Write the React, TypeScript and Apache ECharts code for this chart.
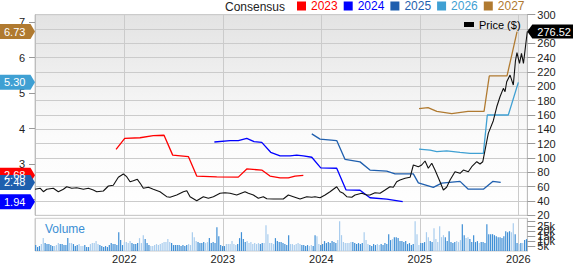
import React, { useEffect, useRef } from 'react';
import * as echarts from 'echarts';

// ---------- data ----------
const X_MIN = 2021.093;
const X_MAX = 2026.091;
const yearTicks = [2022, 2023, 2024, 2025, 2026];
const leftTickLabels = [3, 4, 5, 6, 7];
const volTickLabels = ['0', '5k', '10k', '15k', '20k', '25k'];

const priceT = [2021.093, 2021.147, 2021.178, 2021.212, 2021.279, 2021.33, 2021.381, 2021.415, 2021.466, 2021.517, 2021.584, 2021.635, 2021.685, 2021.72, 2021.787, 2021.838, 2021.888, 2021.939, 2021.99, 2022.024, 2022.058, 2022.091, 2022.132, 2022.166, 2022.193, 2022.244, 2022.294, 2022.362, 2022.43, 2022.464, 2022.532, 2022.599, 2022.634, 2022.667, 2022.735, 2022.802, 2022.853, 2022.904, 2022.972, 2023.022, 2023.073, 2023.141, 2023.225, 2023.259, 2023.31, 2023.36, 2023.411, 2023.446, 2023.513, 2023.581, 2023.614, 2023.665, 2023.716, 2023.784, 2023.852, 2023.903, 2023.936, 2023.987, 2024.038, 2024.088, 2024.156, 2024.19, 2024.223, 2024.258, 2024.309, 2024.342, 2024.41, 2024.461, 2024.494, 2024.545, 2024.596, 2024.647, 2024.697, 2024.731, 2024.765, 2024.799, 2024.85, 2024.901, 2024.934, 2024.985, 2025.019, 2025.053, 2025.086, 2025.121, 2025.154, 2025.205, 2025.239, 2025.272, 2025.307, 2025.357, 2025.408, 2025.442, 2025.492, 2025.527, 2025.578, 2025.611, 2025.639, 2025.662, 2025.695, 2025.746, 2025.781, 2025.814, 2025.848, 2025.865, 2025.882, 2025.916, 2025.949, 2025.971, 2025.986, 2026.012, 2026.032, 2026.052, 2026.091];
const priceV = [56.3, 57.7, 52.9, 56.3, 57.7, 52.9, 56.3, 59.9, 57.7, 58.5, 56.3, 57.7, 55.3, 52.9, 53.9, 60.9, 61.9, 73.0, 77.6, 73.9, 66.9, 68.3, 70.2, 63.7, 57.7, 59.1, 56.3, 52.9, 46.0, 45.1, 48.3, 52.9, 54.3, 46.0, 40.4, 46.0, 43.7, 46.0, 50.7, 51.5, 50.7, 48.3, 52.9, 50.7, 48.3, 43.7, 46.0, 43.2, 42.7, 42.7, 42.7, 48.3, 46.0, 42.7, 46.0, 45.1, 46.0, 44.6, 48.3, 52.9, 59.9, 52.9, 50.7, 46.0, 45.1, 48.3, 50.7, 48.3, 48.3, 51.5, 50.7, 55.3, 59.9, 59.1, 66.9, 69.3, 71.6, 73.0, 90.2, 87.8, 90.2, 95.8, 85.6, 92.6, 83.2, 66.9, 55.3, 59.1, 69.3, 80.8, 78.6, 83.2, 80.8, 87.8, 94.8, 91.6, 94.8, 111.1, 134.4, 152.0, 171.5, 185.5, 197.2, 192.5, 206.4, 215.7, 201.8, 236.0, 247.0, 232.0, 246.0, 232.0, 276.52];

const eps2023T = [2021.916, 2022.004, 2022.159, 2022.294, 2022.403, 2022.491, 2022.65, 2022.735, 2022.938, 2023.157, 2023.243, 2023.395, 2023.479, 2023.581, 2023.665, 2023.733, 2023.817];
const eps2023V = [3.41, 3.72, 3.74, 3.8, 3.81, 3.25, 3.21, 2.66, 2.64, 2.63, 2.86, 2.83, 2.66, 2.61, 2.61, 2.66, 2.68];

const eps2024T = [2022.914, 2023.073, 2023.157, 2023.243, 2023.317, 2023.395, 2023.486, 2023.581, 2023.682, 2023.75, 2023.817, 2023.903, 2023.994, 2024.156, 2024.251, 2024.393, 2024.494, 2024.664, 2024.826];
const eps2024V = [3.62, 3.66, 3.66, 3.72, 3.63, 3.61, 3.33, 3.23, 3.23, 3.25, 3.23, 3.19, 2.89, 2.88, 2.27, 2.26, 2.05, 2.01, 1.94];

const eps2025T = [2023.903, 2023.987, 2024.156, 2024.241, 2024.393, 2024.494, 2024.664, 2024.748, 2024.934, 2024.985, 2025.137, 2025.222, 2025.408, 2025.492, 2025.645, 2025.74, 2025.821];
const eps2025V = [3.85, 3.7, 3.66, 3.13, 3.06, 2.83, 2.8, 2.72, 2.72, 2.47, 2.34, 2.46, 2.51, 2.29, 2.29, 2.51, 2.48];

const eps2026T = [2024.992, 2025.104, 2025.172, 2025.273, 2025.408, 2025.51, 2025.645, 2025.685, 2025.713, 2025.898, 2026.0];
const eps2026V = [3.42, 3.39, 3.35, 3.37, 3.33, 3.3, 3.3, 4.38, 4.38, 4.38, 5.3];

const eps2027T = [2024.992, 2025.083, 2025.172, 2025.324, 2025.489, 2025.652, 2025.705, 2025.885, 2025.987];
const eps2027V = [4.56, 4.59, 4.48, 4.42, 4.48, 4.48, 5.48, 5.48, 6.73];

// weekly volume, thousands of shares
const VOL_START = 2021.1;
const volumeK = [
  6, 4, 5, 7, 13, 8, 7, 7, 6, 5, 5, 6, 8, 7, 7, 6, 6, 13, 8, 8,
  7, 5, 6, 7, 5, 5, 6, 4, 4, 7, 8, 8, 10, 7, 6, 5, 4, 5, 4, 6,
  8, 7, 7, 6, 19, 11, 6, 9, 9, 8, 10, 8, 7, 7, 8, 13, 8, 16, 12, 8,
  6, 5, 5, 6, 7, 6, 7, 8, 9, 9, 12, 9, 8, 6, 6, 6, 6, 5, 6, 5,
  6, 7, 6, 19, 14, 10, 9, 8, 8, 9, 8, 9, 13, 8, 9, 8, 24, 15, 6, 5,
  5, 7, 7, 7, 10, 7, 6, 7, 13, 19, 12, 9, 10, 8, 9, 7, 8, 7, 8, 7,
  8, 8, 26, 17, 8, 8, 7, 13, 10, 9, 9, 8, 7, 6, 16, 7, 7, 6, 7, 8,
  7, 6, 6, 5, 6, 5, 6, 5, 16, 15, 7, 6, 7, 10, 8, 9, 8, 10, 9, 8,
  11, 30, 16, 9, 8, 8, 8, 9, 9, 8, 7, 8, 7, 8, 19, 11, 7, 6, 5, 7,
  6, 7, 6, 7, 6, 8, 7, 17, 11, 12, 14, 14, 13, 10, 10, 9, 10, 7, 8, 6,
  7, 30, 17, 6, 8, 8, 9, 19, 14, 10, 9, 23, 12, 9, 25, 14, 16, 14, 10, 20,
  9, 8, 9, 10, 9, 11, 27, 16, 13, 14, 12, 9, 16, 9, 10, 8, 9, 9, 8, 27,
  17, 17, 17, 16, 15, 14, 14, 13, 15, 20, 19, 20, 19, 28, 17, 8, 7, 8, 8, 11,
  12,
];

// ---------- styles ----------
const C2023 = '#ff0000';
const C2024 = '#0000ff';
const C2025 = '#1f5fae';
const C2026 = '#3fa0d3';
const C2027 = '#b07a30';
const FONT = 'Arial, "Liberation Sans", sans-serif';
const GRID_LINE = '#cbcbcb';

const zip = (t: number[], v: number[]) => t.map((x, i) => [x, v[i]]);

function priceAt(t: number): number {
  if (t <= priceT[0]) return priceV[0];
  for (let i = 1; i < priceT.length; i++) {
    if (t <= priceT[i]) {
      const f = (t - priceT[i - 1]) / (priceT[i] - priceT[i - 1]);
      return priceV[i - 1] + f * (priceV[i] - priceV[i - 1]);
    }
  }
  return priceV[priceV.length - 1];
}

const WEEK = 7 / 365.25;

export default function App() {
  const ref = useRef<HTMLDivElement>(null);
  useEffect(() => {
    document.body.style.margin = '0';
    const el = ref.current;
    if (!el) return;
    const chart = echarts.init(el, null, { renderer: 'svg' });

    const volData = volumeK.map((v, i) => {
      const t = VOL_START + i * WEEK;
      const up = priceAt(t) >= priceAt(t - WEEK);
      return { value: [t, v * 1000], itemStyle: { color: up ? '#3f8fd6' : '#a9cdee' } };
    });

    const epsSeries = [
      { name: '2023', t: eps2023T, v: eps2023V, c: C2023 },
      { name: '2024', t: eps2024T, v: eps2024V, c: C2024 },
      { name: '2025', t: eps2025T, v: eps2025V, c: C2025 },
      { name: '2026', t: eps2026T, v: eps2026V, c: C2026 },
      { name: '2027', t: eps2027T, v: eps2027V, c: C2027 },
    ];

    const option: any = {
      animation: false,
      textStyle: { fontFamily: FONT },
      grid: [
        {
          left: 35, top: 14.7, width: 492.3, height: 200.6, show: true,
          backgroundColor: new echarts.graphic.LinearGradient(0, 0, 0, 1, [
            { offset: 0, color: '#e3e3e3' },
            { offset: 0.6, color: '#fbfbfb' },
            { offset: 1, color: '#ffffff' },
          ]),
          borderColor: GRID_LINE, borderWidth: 1,
        },
        {
          left: 35, top: 218.3, width: 492.3, height: 35.7, show: true,
          backgroundColor: '#fdfdfd', borderColor: GRID_LINE, borderWidth: 1,
        },
      ],
      legend: [
        {
          data: epsSeries.map((s) => ({ name: s.name, textStyle: { color: s.c } })),
          left: 297, top: 0, padding: 0, icon: 'rect', itemWidth: 9, itemHeight: 9, itemGap: 6,
          textStyle: { fontSize: 12, fontFamily: FONT }, selectedMode: false,
        },
        {
          data: ['Price ($)'], left: 464, top: 19, padding: 0, icon: 'rect', itemWidth: 10, itemHeight: 5,
          textStyle: { fontSize: 11, color: '#000', fontFamily: FONT }, selectedMode: false,
        },
      ],
      xAxis: [
        {
          type: 'value', gridIndex: 0, min: X_MIN, max: X_MAX, splitNumber: 5,
          axisLine: { show: false }, axisTick: { show: false }, axisLabel: { show: false },
          splitLine: { show: true, lineStyle: { color: GRID_LINE, width: 1 } },
        },
        {
          type: 'value', gridIndex: 1, min: X_MIN, max: X_MAX, splitNumber: 5,
          axisLine: { show: false }, axisTick: { show: false },
          axisLabel: {
            show: true, margin: 2, fontSize: 11, color: '#222', fontFamily: FONT,
            showMinLabel: false, showMaxLabel: false,
            formatter: (v: number) => (yearTicks.includes(Math.round(v)) && Math.abs(v - Math.round(v)) < 1e-6 ? String(Math.round(v)) : ''),
          },
          splitLine: { show: true, lineStyle: { color: GRID_LINE, width: 1 } },
        },
      ],
      yAxis: [
        {
          type: 'value', gridIndex: 0, position: 'left', min: 1.555, max: 7.206, splitNumber: 5,
          axisLine: { show: true, lineStyle: { color: '#bdbdbd' } },
          axisTick: { show: true, length: 6, lineStyle: { color: '#999' } },
          axisLabel: {
            margin: 10, fontSize: 11, color: '#222', fontFamily: FONT,
            showMinLabel: false, showMaxLabel: false,
            formatter: (v: number) => {
              const r = Math.round(v);
              return Math.abs(v - r) < 1e-6 && leftTickLabels.includes(r) ? String(r) : '';
            },
          },
          splitLine: { show: false },
        },
        {
          type: 'value', gridIndex: 0, position: 'right', min: 20, max: 300, interval: 20,
          axisLine: { show: true, lineStyle: { color: '#bdbdbd' } },
          axisTick: { show: true, length: 8, lineStyle: { color: '#999' } },
          axisLabel: { margin: 10, fontSize: 11, color: '#222', fontFamily: FONT },
          splitLine: { show: true, lineStyle: { color: GRID_LINE, width: 1 } },
        },
        {
          type: 'value', gridIndex: 1, position: 'right', min: 0, max: 33000, interval: 5000,
          axisLine: { show: true, lineStyle: { color: '#bdbdbd' } },
          axisTick: { show: true, length: 8, lineStyle: { color: '#999' } },
          axisLabel: {
            margin: 10, fontSize: 11, color: '#222', fontFamily: FONT, showMaxLabel: false,
            formatter: (v: number) => {
              const idx = Math.round(v / 5000);
              return Math.abs(v - idx * 5000) < 1e-6 && idx < volTickLabels.length ? volTickLabels[idx] : '';
            },
          },
          splitLine: { show: false },
        },
      ],
      series: [
        ...epsSeries.map((s) => ({
          name: s.name, type: 'line', xAxisIndex: 0, yAxisIndex: 0,
          data: zip(s.t, s.v), symbol: 'none', showSymbol: false,
          lineStyle: { color: s.c, width: 1.3 }, itemStyle: { color: s.c }, z: 3,
        })),
        {
          name: 'Price ($)', type: 'line', xAxisIndex: 0, yAxisIndex: 1,
          data: zip(priceT, priceV), symbol: 'none', showSymbol: false,
          lineStyle: { color: '#111', width: 1.1 }, itemStyle: { color: '#000' }, z: 4,
        },
        {
          name: 'Volume', type: 'bar', xAxisIndex: 1, yAxisIndex: 2, barWidth: 1.2,
          data: volData,
        },
      ],
    };
    chart.setOption(option);

    const yL = (v: number) => chart.convertToPixel({ yAxisIndex: 0 }, v) as number;
    const yR = (v: number) => chart.convertToPixel({ yAxisIndex: 1 }, v) as number;
    const xEnd = chart.convertToPixel({ xAxisIndex: 0 }, X_MAX) as number;

    const leftTag = (val: number, color: string) => {
      const y = yL(val);
      const h = 7.5;
      return [
        {
          type: 'polygon', z: 100,
          shape: { points: [[0, y - h], [30.5, y - h], [35, y], [30.5, y + h], [0, y + h]] },
          style: { fill: color },
        },
        {
          type: 'text', z: 101, x: 4, y: y,
          style: { text: val.toFixed(2), fill: '#fff', fontSize: 11, fontFamily: FONT, verticalAlign: 'middle' },
        },
      ];
    };
    const last = (a: number[]) => a[a.length - 1];
    const pY = yR(last(priceV));
    const graphic: any[] = [
      {
        type: 'text', x: 225, y: 6.5,
        style: { text: 'Consensus', fill: '#222', fontSize: 12, fontFamily: FONT, verticalAlign: 'middle' },
      },
      {
        type: 'text', x: 45, y: 228.5,
        style: { text: 'Volume', fill: '#3a8ed4', fontSize: 12, fontFamily: FONT, verticalAlign: 'middle' },
      },
      ...leftTag(last(eps2023V), C2023),
      ...leftTag(last(eps2025V), C2025),
      ...leftTag(last(eps2024V), C2024),
      ...leftTag(last(eps2026V), C2026),
      ...leftTag(last(eps2027V), C2027),
      {
        type: 'polygon', z: 100,
        shape: { points: [[xEnd, pY], [xEnd + 5, pY - 7], [573, pY - 7], [573, pY + 7], [xEnd + 5, pY + 7]] },
        style: { fill: '#000' },
      },
      {
        type: 'text', z: 101, x: xEnd + 10, y: pY,
        style: { text: last(priceV).toFixed(2), fill: '#fff', fontSize: 11, fontFamily: FONT, verticalAlign: 'middle' },
      },
    ];
    chart.setOption({ graphic });

    return () => chart.dispose();
  }, []);
  return <div ref={ref} style={{ width: 573, height: 264 }} />;
}
